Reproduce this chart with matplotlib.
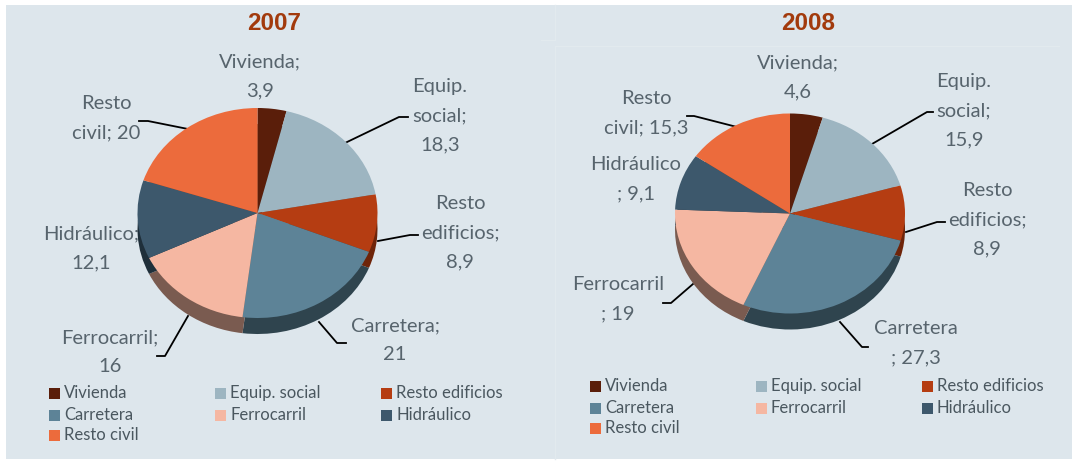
import matplotlib
matplotlib.use("Agg")
from matplotlib import pyplot as plt
from matplotlib.patches import Rectangle

W, H = 1072, 461
plt.rcParams['font.family'] = ['Lato', 'DejaVu Sans']

categories = ["Vivienda", "Equip. social", "Resto edificios", "Carretera",
              "Ferrocarril", "Hidráulico", "Resto civil"]
values_2007 = [3.9, 18.3, 8.9, 21, 16, 12.1, 20]
values_2008 = [4.6, 15.9, 8.9, 27.3, 19, 9.1, 15.3]
labels_2007 = ["Vivienda;\n3,9", "Equip.\nsocial;\n18,3", "Resto\nedificios;\n8,9",
               "Carretera;\n21", "Ferrocarril;\n16", "Hidráulico;\n12,1", "Resto\ncivil; 20"]
labels_2008 = ["Vivienda;\n4,6", "Equip.\nsocial;\n15,9", "Resto\nedificios;\n8,9",
               "Carretera\n; 27,3", "Ferrocarril\n; 19", "Hidráulico\n; 9,1", "Resto\ncivil; 15,3"]

colors = ["#5a1e0a", "#9db5c1", "#b53d12", "#5d8397", "#f5b7a2", "#3d586c", "#ec6b3c"]
side_colors = ["#3a1406", "#6a7f8a", "#6e2409", "#2f444e", "#7a5b50", "#1f2f3a", "#8f4024"]
text_color = "#4a575f"
label_color = "#57646d"
bg = "#dde6ec"
faint = "#e2eaee"

fig = plt.figure(figsize=(W / 100, H / 100), dpi=100, facecolor="white")

# overlay in pixel coordinates for panel, labels, leaders and legend
ov = fig.add_axes([0, 0, 1, 1])
ov.set_xlim(0, W)
ov.set_ylim(H, 0)
ov.axis("off")
ov.add_patch(Rectangle((6, 5), W - 6, H - 7, color=bg, lw=0, zorder=0))
for xs, ys in [([555, 555], [5, 40]), ([555, 555], [46, 459]), ([555, 1059], [46, 46]), ([541, 555], [40, 40])]:
    ov.plot(xs, ys, color=faint, lw=1, zorder=1)


def draw_pie(values, cx, cy, rx, ry, depth):
    # pie stretched to an ellipse, dark copy underneath gives the thick edge
    ax = fig.add_axes([(cx - rx) / W, 1 - (cy + ry + depth) / H, 2 * rx / W, (2 * ry + depth) / H])
    d = depth / ry
    ax.pie(values, colors=side_colors, startangle=90, counterclock=False, center=(0, -d), radius=1)
    ax.pie(values, colors=colors, startangle=90, counterclock=False, center=(0, 0), radius=1)
    ax.set_xlim(-1, 1)
    ax.set_ylim(-1 - d, 1)
    ax.set_aspect("auto")
    ax.patch.set_alpha(0)


def draw_labels(labels, xs, ys):
    for lab, x, y in zip(labels, xs, ys):
        ov.text(x, y, lab, ha="center", va="top", fontsize=14.5,
                color=label_color, linespacing=1.87, zorder=5)


def draw_leaders(lines):
    for pts in lines:
        ov.plot([p[0] for p in pts], [p[1] for p in pts], color="black", lw=1.3, zorder=4)


def draw_legend(x0, y0):
    col_x = [x0, x0 + 166, x0 + 332]
    row_y = [y0, y0 + 22, y0 + 42]
    pos = [(0, 0), (1, 0), (2, 0), (0, 1), (1, 1), (2, 1), (0, 2)]
    for name, col, (c, r) in zip(categories, colors, pos):
        ov.add_patch(Rectangle((col_x[c], row_y[r] - 5.5), 11, 11, color=col, lw=0, zorder=3))
        ov.text(col_x[c] + 15, row_y[r], name, ha="left", va="center", fontsize=12,
                color=text_color, zorder=5)


title_font = dict(ha="center", va="center", fontsize=17.5, fontweight="bold",
                  color="#a23a0c", family="Liberation Sans")

# 2007
ov.text(274, 24, "2007", **title_font)
draw_pie(values_2007, 257.5, 213, 120, 105, 16)
draw_labels(labels_2007,
            [260, 440, 460, 395, 110, 91, 106],
            [53, 78, 195, 317, 329, 225, 95])
draw_leaders([[(345, 143), (399, 117), (408, 117)],
              [(378, 241), (410, 235), (418, 235)],
              [(319, 322), (337, 343), (346, 343)],
              [(188, 316), (165, 356), (157, 356)],
              [(188, 129), (148, 121), (139, 121)]])
draw_legend(49, 393)

# 2008
ov.text(808, 24, "2008", **title_font)
draw_pie(values_2008, 790, 213.5, 115, 100, 16)
draw_labels(labels_2008,
            [798, 964, 987, 916, 618, 636, 646],
            [54, 73, 182, 320, 276, 156, 90])
draw_leaders([[(872, 144), (927, 112), (933, 112)],
              [(906, 232), (937, 222), (945, 222)],
              [(840, 322), (862, 347), (868, 347)],
              [(693, 284), (671, 303), (663, 303)],
              [(737, 127), (694, 116), (687, 116)]])
draw_legend(590, 386)

fig.savefig("out.png", dpi=100)
